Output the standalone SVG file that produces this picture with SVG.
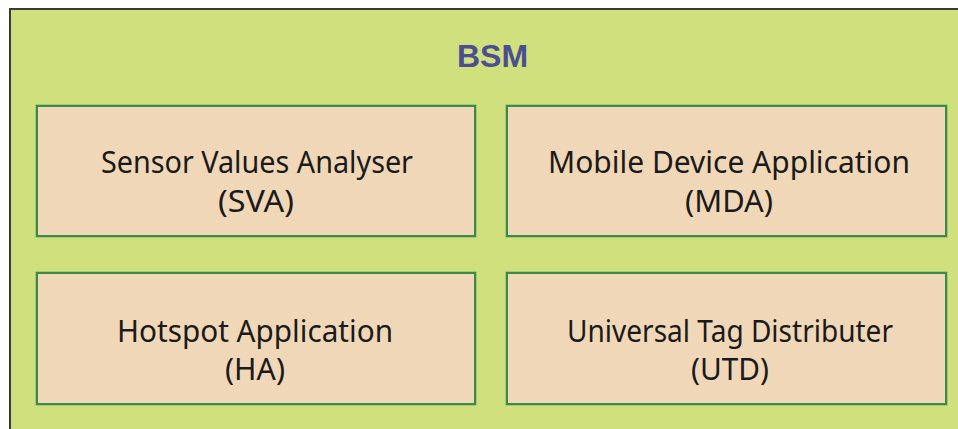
<svg xmlns="http://www.w3.org/2000/svg" width="958" height="429" viewBox="0 0 958 429">
  <style>
    .frame { fill: #cfe07d; stroke: #3a3a3a; stroke-width: 2; }
    .title { font-family: "Liberation Sans", Arial, sans-serif; font-weight: bold; font-size: 32px; fill: #4b4f92; text-anchor: middle; }
    .box { fill: #f0d7b7; stroke: #3c8a48; stroke-width: 2; }
    .halo { fill: none; stroke: #7fae70; stroke-width: 3; }
    .label { font-family: "Noto Sans", "Open Sans", sans-serif; font-size: 30px; fill: #1a1a1a; text-anchor: middle; }
  </style>

  <rect width="958" height="429" fill="#ffffff"/>

  <!-- outer BSM container, runs past the right and bottom edges -->
  <g id="bsm">
    <rect class="frame" x="10" y="9" width="960" height="440"/>
    <text class="title" x="492.5" y="67">BSM</text>
  </g>

  <g id="sva">
    <rect class="halo" x="37" y="106" width="438" height="130"/>
    <rect class="box" x="37" y="106" width="438" height="130"/>
    <text class="label" x="257" y="173" textLength="312" lengthAdjust="spacingAndGlyphs">Sensor Values Analyser</text>
    <text class="label" x="256" y="212" textLength="76" lengthAdjust="spacingAndGlyphs">(SVA)</text>
  </g>

  <g id="mda">
    <rect class="halo" x="507" y="106" width="439" height="130"/>
    <rect class="box" x="507" y="106" width="439" height="130"/>
    <text class="label" x="729" y="173" textLength="362" lengthAdjust="spacingAndGlyphs">Mobile Device Application</text>
    <text class="label" x="729" y="212" textLength="88" lengthAdjust="spacingAndGlyphs">(MDA)</text>
  </g>

  <g id="ha">
    <rect class="halo" x="37" y="273" width="438" height="131"/>
    <rect class="box" x="37" y="273" width="438" height="131"/>
    <text class="label" x="255" y="342" textLength="276" lengthAdjust="spacingAndGlyphs">Hotspot Application</text>
    <text class="label" x="255" y="380" textLength="60" lengthAdjust="spacingAndGlyphs">(HA)</text>
  </g>

  <g id="utd">
    <rect class="halo" x="507" y="273" width="439" height="131"/>
    <rect class="box" x="507" y="273" width="439" height="131"/>
    <text class="label" x="730" y="342" textLength="326" lengthAdjust="spacingAndGlyphs">Universal Tag Distributer</text>
    <text class="label" x="730" y="380" textLength="78" lengthAdjust="spacingAndGlyphs">(UTD)</text>
  </g>

  <!-- no connectors between the modules -->
  <g id="connectors"/>
</svg>
